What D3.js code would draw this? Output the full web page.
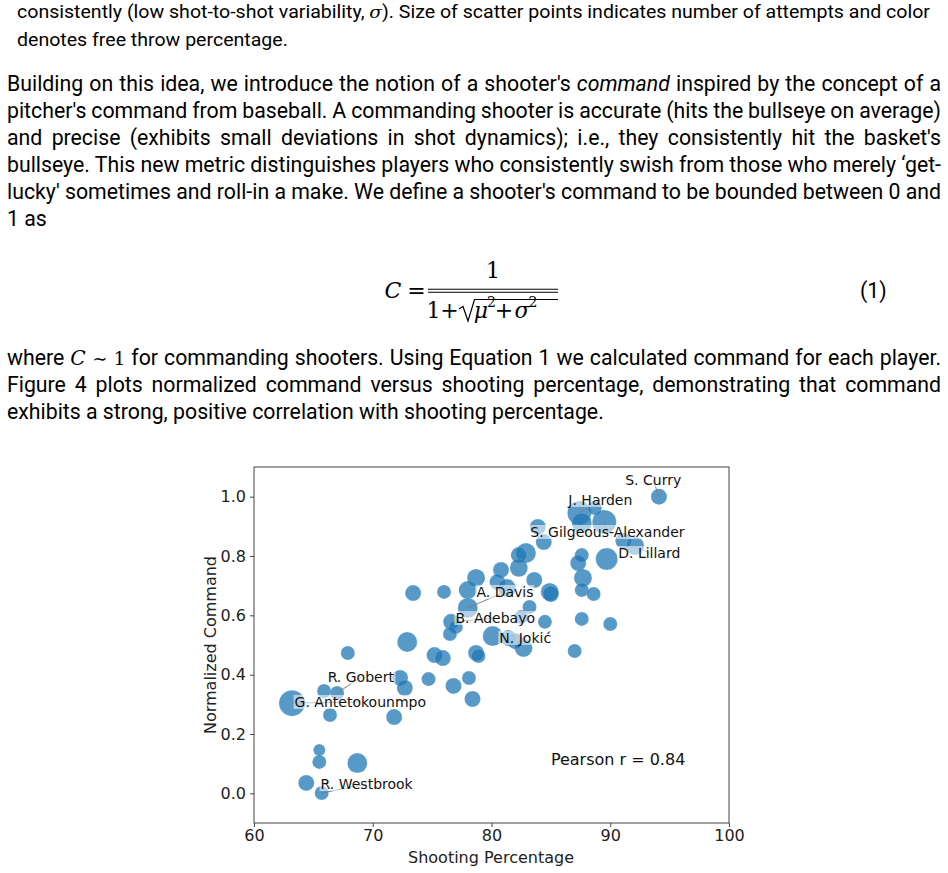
<!DOCTYPE html>
<html><head><meta charset="utf-8">
<script src="https://cdn.jsdelivr.net/npm/d3@7"></script>
<style>body{margin:0;background:#fff;overflow:hidden}</style>
</head><body>
<script>
// ---------------- DATA ----------------
const shootPct = [94.1,87.4,87.6,88.7,89.5,91.1,92.1,89.7,87.6,87.3,87.7,87.6,88.6,87.6,90.0,87.0,
  83.9,84.4,82.9,82.3,82.3,80.8,80.5,81.3,83.6,84.9,85.0,83.2,82.5,84.5,80.1,81.4,82.7,82.0,
  73.4,76.0,78.0,78.7,78.0,76.6,77.0,76.5,72.9,75.2,75.9,78.7,78.9,67.9,72.3,72.7,74.7,76.8,78.1,78.4,71.8,
  65.9,67.0,63.2,66.4,65.5,65.5,68.7,64.4,65.7];
const command = [1.00,0.945,0.911,0.962,0.915,0.851,0.834,0.790,0.803,0.776,0.726,0.685,0.672,0.588,0.571,0.480,
  0.898,0.847,0.810,0.803,0.760,0.753,0.712,0.692,0.719,0.679,0.672,0.628,0.594,0.578,0.530,0.524,0.490,0.513,
  0.675,0.679,0.685,0.726,0.625,0.578,0.561,0.537,0.510,0.466,0.456,0.473,0.463,0.473,0.389,0.355,0.385,0.362,0.389,0.318,0.257,
  0.345,0.338,0.304,0.264,0.146,0.106,0.102,0.035,0.001];
const attempts = [256,576,400,196,576,256,324,484,196,256,324,196,196,196,196,196,
  256,256,400,256,324,256,256,324,256,324,256,196,196,196,400,256,324,256,
  256,196,324,324,400,256,196,196,400,256,256,256,196,196,256,256,196,256,196,256,256,
  196,196,676,196,144,196,400,256,196];

const labelNames = ["S. Curry","J. Harden","S. Gilgeous-Alexander","D. Lillard","A. Davis","B. Adebayo","N. Jokić","R. Gobert","G. Antetokounmpo","R. Westbrook"];
const labelPoint = [0,1,4,6,38,39,31,56,57,63];
const labelX = [91.26,86.47,83.27,90.67,78.73,76.96,80.66,66.20,63.42,65.61];
const labelY = [1.039,0.972,0.864,0.793,0.662,0.574,0.507,0.375,0.291,0.0145];

const xTicks = [60,70,80,90,100];
const yTicks = [0.0,0.2,0.4,0.6,0.8,1.0];
const xTitle = "Shooting Percentage";
const yTitle = "Normalized Command";
const pearsonText = "Pearson r = 0.84";

const captionLines = [
  [["consistently (low shot-to-shot variability, ","n"],["σ","m"],["). Size of scatter points indicates number of attempts and color","n"]],
  [["denotes free throw percentage.","n"]]
];
const para2 = [
  [["Building on this idea, we introduce the notion of a shooter's ","n"],["command","i"],[" inspired by the concept of a","n"]],
  [["pitcher's command from baseball. A commanding shooter is accurate (hits the bullseye on average)","n"]],
  [["and precise (exhibits small deviations in shot dynamics); i.e., they consistently hit the basket's","n"]],
  [["bullseye. This new metric distinguishes players who consistently swish from those who merely ‘get-","n"]],
  [["lucky' sometimes and roll-in a make. We define a shooter's command to be bounded between 0 and","n"]],
  [["1 as","n"]]
];
const para3 = [
  [["where ","n"],["C","m"],[" ∼ 1","s"],[" for commanding shooters. Using Equation 1 we calculated command for each player.","n"]],
  [["Figure 4 plots normalized command versus shooting percentage, demonstrating that command","n"]],
  [["exhibits a strong, positive correlation with shooting percentage.","n"]]
];
// equation glyphs: [text, kind]
const eqGlyphs = [["C","mi"],["=","m"],["1","num"],["1","m"],["+","m"],["μ","mi"],["2","sup"],["+","m"],["σ","mi"],["2","sup"]];
const eqNumber = "(1)";

// ---------------- DRAW ----------------
const W = 948, H = 873;
const svg = d3.select("body").append("svg").attr("width", W).attr("height", H);
svg.append("rect").attr("width", W).attr("height", H).attr("fill", "#fff");

const bodyFont = "Roboto";
const serif = "DejaVu Serif";

function addLine(segs, x, yb, fs, family) {
  const t = svg.append("text").attr("x", x).attr("y", yb)
    .attr("font-size", fs).attr("font-family", family || bodyFont).attr("fill", "#000")
    .style("white-space", "pre");
  segs.forEach(([s, k]) => {
    const ts = t.append("tspan").text(s);
    if (k === "i") ts.attr("font-style", "italic");
    if (k === "m") ts.attr("font-family", serif).attr("font-style", "italic").attr("font-size", fs * 0.95);
    if (k === "s") ts.attr("font-family", serif).attr("font-size", fs * 0.85);
  });
  return t;
}
function justify(t, width) {
  const nat = t.node().getComputedTextLength();
  const n = (t.text().match(/ /g) || []).length;
  if (n > 0) t.style("word-spacing", ((width - nat) / n) + "px");
}

// calibrate body font size from last unjustified line
const probe = addLine(para3[2], 7, -100, 19);
const fsBody = 19 * 597 / probe.node().getComputedTextLength();
probe.remove();

// caption (condensed)
const capFs = 18.5;
const c1 = addLine(captionLines[0], 17, 18, capFs);
const c1nat = c1.node().getComputedTextLength();
const squeeze = 913 / c1nat;
c1.attr("textLength", 913).attr("lengthAdjust", "spacingAndGlyphs");
const c2 = addLine(captionLines[1], 17, 46, capFs);
c2.attr("textLength", c2.node().getComputedTextLength() * squeeze).attr("lengthAdjust", "spacingAndGlyphs");

const p2y = [91, 118, 145, 172, 199, 226];
para2.forEach((segs, i) => {
  const t = addLine(segs, 7, p2y[i], fsBody);
  if (i < para2.length - 1) justify(t, 934);
});
const p3y = [365, 392, 419];
para3.forEach((segs, i) => {
  const t = addLine(segs, 7, p3y[i], fsBody);
  if (i < para3.length - 1) justify(t, 934);
});

// equation (glyph centres / baselines are layout, kept here)
const eqPos = [[393,298],[416.5,298],[493,278],[433.5,318],[449.5,318],[481,318],[491.5,307],[504,318],[522,318],[533,307]];
const eq = svg.append("g").attr("font-family", serif).attr("fill", "#000");
eqGlyphs.forEach(([s, k], i) => {
  eq.append("text").attr("x", eqPos[i][0]).attr("y", eqPos[i][1]).attr("text-anchor", "middle")
    .attr("font-size", k === "sup" ? 14 : 22)
    .attr("font-style", k === "mi" ? "italic" : "normal").text(s);
});
eq.append("line").attr("x1", 428).attr("x2", 558).attr("y1", 289.3).attr("y2", 289.3).attr("stroke", "#000").attr("stroke-width", 1.1);
eq.append("line").attr("x1", 428).attr("x2", 558).attr("y1", 292.3).attr("y2", 292.3).attr("stroke", "#000").attr("stroke-width", 1.1);
eq.append("path").attr("d", "M459,309 L463,306.5 L468,321 L474.5,299.5 L558,299.5").attr("fill", "none").attr("stroke", "#000").attr("stroke-width", 1.2);
svg.append("text").attr("x", 860).attr("y", 298).attr("font-family", bodyFont).attr("font-size", fsBody).text(eqNumber);

// ---------------- CHART ----------------
const x = d3.scaleLinear().domain([60, 100]).range([254, 729]);
const y = d3.scaleLinear().domain([-0.1, 1.1]).range([823, 467]);
const r = d3.scaleSqrt().domain([0, 676]).range([0, 13]);
const chart = svg.append("g").attr("font-family", "DejaVu Sans");

chart.append("g").selectAll("circle").data(d3.range(shootPct.length)).join("circle")
  .attr("cx", i => x(shootPct[i])).attr("cy", i => y(command[i])).attr("r", i => r(attempts[i]))
  .attr("fill", "#1f77b4").attr("fill-opacity", 0.75)
  .attr("stroke", "#ffffff").attr("stroke-opacity", 0.25).attr("stroke-width", 0.6);

// annotations
const ann = chart.append("g");
labelNames.forEach((name, k) => {
  const t = ann.append("text").attr("x", x(labelX[k])).attr("y", y(labelY[k]))
    .attr("font-size", 14).attr("fill", "#111").text(name);
  const bb = t.node().getBBox();
  const p = labelPoint[k];
  ann.insert("line", "text").attr("x1", x(shootPct[p])).attr("y1", y(command[p]))
    .attr("x2", bb.x + bb.width / 2).attr("y2", bb.y + bb.height / 2)
    .attr("stroke", "#7f7f7f").attr("stroke-width", 1);
  ann.insert("rect", "text").attr("x", bb.x - 1).attr("y", bb.y + 1).attr("width", bb.width + 2).attr("height", bb.height - 2)
    .attr("fill", "#fff").attr("fill-opacity", 0.55);
});

chart.append("text").attr("x", 254 + 0.625 * 475).attr("y", 765)
  .attr("font-size", 16).attr("fill", "#111").text(pearsonText);

// axes
const xAxis = d3.axisBottom(x).tickValues(xTicks).tickSize(4).tickPadding(3).tickFormat(d3.format("d"));
const yAxis = d3.axisLeft(y).tickValues(yTicks).tickSize(4).tickPadding(4).tickFormat(d3.format(".1f"));
const gx = chart.append("g").attr("transform", "translate(0,823)").call(xAxis);
const gy = chart.append("g").attr("transform", "translate(254,0)").call(yAxis);
[gx, gy].forEach(g => {
  g.select(".domain").remove();
  g.selectAll(".tick line").attr("stroke", "#444");
  g.selectAll(".tick text").attr("font-size", 16).attr("font-family", "DejaVu Sans").attr("fill", "#222");
});
chart.append("rect").attr("x", 254).attr("y", 467).attr("width", 475).attr("height", 356)
  .attr("fill", "none").attr("stroke", "#444").attr("stroke-width", 1);

chart.append("text").attr("x", 491).attr("y", 863).attr("text-anchor", "middle")
  .attr("font-size", 16).attr("fill", "#222").text(xTitle);
chart.append("text").attr("transform", "translate(216,645) rotate(-90)").attr("text-anchor", "middle")
  .attr("font-size", 16).attr("fill", "#222").text(yTitle);
</script>
</body></html>
